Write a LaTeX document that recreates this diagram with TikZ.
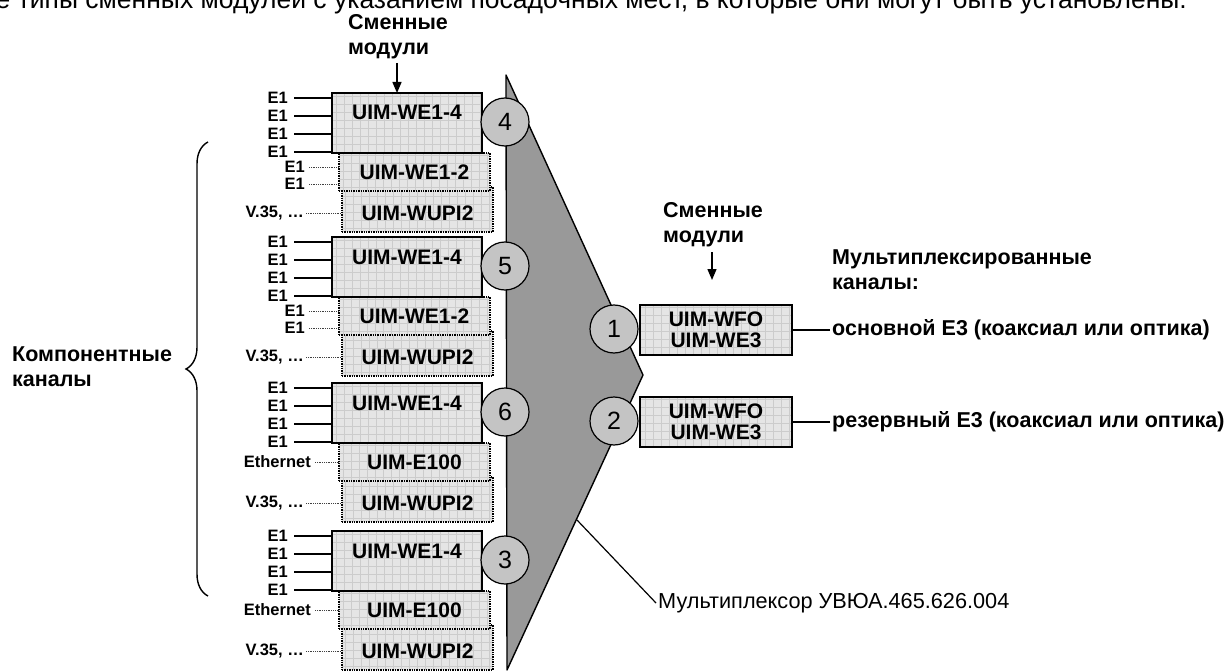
\documentclass[tikz,border=0pt]{standalone}
\usepackage{fontspec}
\setmainfont{Liberation Sans}
\usetikzlibrary{arrows.meta,decorations.pathreplacing}
\definecolor{muxgray}{gray}{0.6}
\definecolor{numgray}{gray}{0.77}
\definecolor{modfill}{gray}{0.9}
\definecolor{modgrid}{gray}{0.8}
\begin{document}
\begin{tikzpicture}[x=1pt,y=-1pt,
  mod/.style={draw,line width=1.4pt,fill=modfill,outer sep=0pt,inner sep=0pt,
    font=\fontsize{21}{21}\selectfont\bfseries,
    path picture={\draw[solid,modgrid,line width=0.5pt] (path picture bounding box.south west) grid[step=8pt] (path picture bounding box.north east);}},
  solidmod/.style={mod,minimum width=150pt,minimum height=60pt,text height=15pt,text depth=21pt},
  dotmod/.style={mod,densely dotted,minimum width=151pt},
  e3mod/.style={mod,minimum width=152pt,minimum height=50pt,align=center,font=\fontsize{21}{21}\selectfont\bfseries},
  num/.style={circle,draw,line width=1.2pt,fill=numgray,minimum size=48pt,inner sep=0pt,font=\fontsize{25}{25}\selectfont},
  sig/.style={anchor=east,inner xsep=4pt,inner ysep=0pt,font=\fontsize{16.5}{16.5}\selectfont\bfseries},
  head/.style={align=left,inner sep=2pt,font=\fontsize{21.5}{25}\selectfont\bfseries},
  dotline/.style={densely dotted,line width=0.8pt,black!75},
  arr/.style={line width=1.4pt,-{Triangle[width=9pt,length=11pt]}}]
\useasboundingbox (0,0) rectangle (1226,671);
\node[anchor=base east,inner sep=0pt,font=\fontsize{26.5}{26.5}\selectfont] (cap) at (1187,8.5)
  {все типы сменных модулей с указанием посадочных мест, в которые они могут быть установлены.};
\filldraw[fill=muxgray,line width=1.4pt,line join=round] (506,75) -- (643,375) -- (507,670) -- cycle;

\foreach \g/\t in {a/93,b/237,c/383,d/531} {
  \node[dotmod,minimum height=45pt,text height=22pt,text depth=0pt] (up\g) at (417.5,\t+116.5) {UIM-WUPI2};
  \node[sig,inner xsep=2pt] (v\g) at (306,\t+120) {V.35, …};
  \draw[dotline] (v\g.east) -- (v\g.east -| up\g.west);
}
\foreach \g/\t in {a/93,b/237} {
  \node[dotmod,minimum height=38pt] (mid\g) at (414.5,\t+79) {UIM-WE1-2};
  \foreach \k/\dy in {1/74,2/91} {
    \node[sig] (f\g\k) at (309,\t+\dy) {E1};
    \draw[dotline] (f\g\k.east) -- (f\g\k.east -| mid\g.west);
  }
}
\foreach \g/\t in {c/383,d/531} {
  \node[dotmod,minimum height=38pt] (mid\g) at (414.5,\t+79) {UIM-E100};
  \node[sig] (eth\g) at (315,\t+79) {Ethernet};
  \draw[dotline] (eth\g.east) -- (eth\g.east -| mid\g.west);
}
\foreach \g/\t/\n in {a/93/4,b/237/5,c/383/6,d/531/3} {
  \node[solidmod] (we\g) at (407,\t+30) {UIM-WE1-4};
  \foreach \k/\dy in {1/5,2/23,3/41,4/59} {
    \node[sig,inner xsep=6pt] (e\g\k) at (294,\t+\dy) {E1};
    \draw[line width=1.4pt] (e\g\k.east) -- (e\g\k.east -| we\g.west);
  }
  \node[num] (c\g) at (505,\t+29) {\n};
}

\node[head,anchor=west] (hdA) at (346,37) {Сменные\\модули};
\coordinate (arA) at (397,63);
\draw[arr] (arA) -- (arA |- wea.north);

\draw[line width=1.4pt,decorate,decoration={brace,amplitude=22pt}] (208,596) -- (208,142);
\node[head,anchor=west] (comp) at (10,367) {Компонентные\\каналы};

\node[num] (c1) at (614,329) {1};
\node[num] (c2) at (614,421) {2};
\node[e3mod] (fo1) at (716,330) {UIM-WFO\\UIM-WE3};
\node[e3mod] (fo2) at (716,422) {UIM-WFO\\UIM-WE3};
\node[head,anchor=west] (hdB) at (661,225) {Сменные\\модули};
\coordinate (arB1) at (712,252);
\coordinate (arB2) at (712,280);
\draw[arr] (arB1) -- (arB2);
\node[head,anchor=west] (out) at (830,270) {Мультиплексированные\\каналы:};
\node[head,anchor=west] (prim) at (830,330) {основной E3 (коаксиал или оптика)};
\node[head,anchor=west] (resv) at (830,422) {резервный E3 (коаксиал или оптика)};
\draw[line width=1.4pt] (fo1.east) -- (prim.west);
\draw[line width=1.4pt] (fo2.east) -- (resv.west);

\coordinate (muxpt) at (577,520);
\node[anchor=west,inner sep=2pt,font=\fontsize{21.7}{21.7}\selectfont] (mux) at (656,603) {Мультиплексор УВЮА.465.626.004};
\draw[line width=1.2pt] (muxpt) -- (mux.west);
\end{tikzpicture}
\end{document}
